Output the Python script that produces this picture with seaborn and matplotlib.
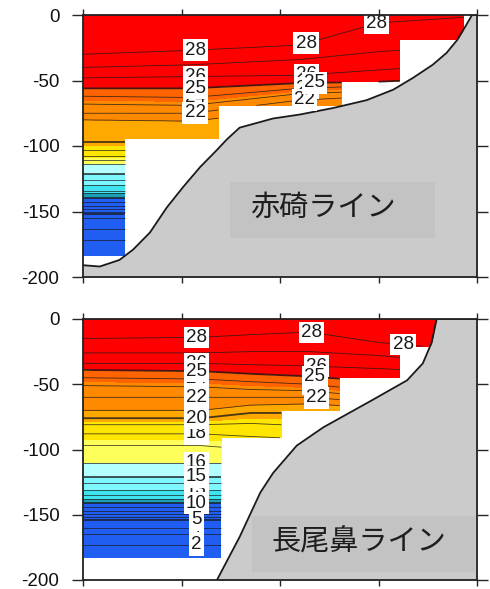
"""Temperature cross sections off Tottori: Akasaki and Nagaobana lines."""

import matplotlib
matplotlib.use("Agg")
import matplotlib.pyplot as plt
import numpy as np
import pandas as pd
import seaborn as sns
from matplotlib.patches import Rectangle


# isotherm temperatures (deg C) that the station profiles are described by
iso_temp = [28.9, 28, 27, 26, 25, 24, 23, 22, 21, 20, 19, 18, 17, 16,
            15, 14, 13, 12, 11, 10, 8, 5, 4, 3, 2, 1.2]

# --- 赤碕ライン -------------------------------------------------------------
aka_station_x = [0, 11, 22, 30, 38]
aka_iso_depth = [
    [0, -30, -40, -48, -56, -62, -68, -75, -80, -97, -103, -108, -111, -114,
     -121, -126, -130, -134, -136, -140, -146, -152, -155, -163, -172, -195],
    [0, -27, -38, -47, -56, -63, -69, -75, -81, -97, -103, -108, -111, -114,
     -121, -126, -130, -134, -136, -140, -146, -152, -155, -163, -172, -195],
    [0, -23, -34, -46, -52, -56, -60, -65, -72, -90, -102, -108, -111, -114,
     -121, -126, -130, -134, -136, -140, -146, -152, -155, -163, -172, -195],
    [0, -6, -28, -42, -51, -54, -58, -62, -68, -85, -100, -108, -111, -114,
     -121, -126, -130, -134, -136, -140, -146, -152, -155, -163, -172, -195],
    [0, -2, -24, -38, -48, -52, -56, -60, -66, -82, -100, -108, -111, -114,
     -121, -126, -130, -134, -136, -140, -146, -152, -155, -163, -172, -195],
]
aka_col_edges = [0, 4.3, 13.8, 26.3, 32.2, 38.6]
aka_col_bottom = [-184, -94, -69, -51, -19]
aka_bathy_x = [0, 1.7, 3.7, 5.1, 6.8, 8.5, 10.2, 11.9, 13.6, 14.6, 15.9, 19.3,
               22.0, 25.4, 28.8, 31.5, 33.5, 35.5, 36.9, 38.0, 38.8, 39.5, 40]
aka_bathy_z = [-191, -192, -187, -179, -166, -147, -131, -116, -103, -95, -86,
               -79, -76, -71, -65, -57, -48, -38, -29, -19, -9, 0, 0]
aka_label_level = [28, 26, 25, 24, 22, 28, 26, 25, 24, 22, 28]
aka_label_x = [11.4, 11.4, 11.4, 11.4, 11.4, 22.7, 22.7, 23.5, 22.7, 22.5, 29.8]
aka_label_z = [-27, -47, -56, -63, -75, -23, -46, -52, -56, -65, -6]

# --- 長尾鼻ライン -----------------------------------------------------------
naga_station_x = [0, 12, 17, 23, 30, 36]
naga_iso_depth = [
    [0, -15, -26, -34, -39, -45, -51, -60, -70, -76, -81, -88, -97, -110,
     -121, -126, -131, -135, -138, -141, -147, -154, -160, -165, -173, -195],
    [0, -14, -26, -34, -40, -46, -52, -60, -70, -76, -81, -88, -97, -110,
     -121, -126, -131, -135, -138, -141, -147, -154, -160, -165, -173, -195],
    [0, -12, -25, -35, -42, -48, -54, -60, -66, -72, -80, -90, -100, -110,
     -121, -126, -131, -135, -138, -141, -147, -154, -160, -165, -173, -195],
    [0, -10, -25, -36, -44, -50, -55, -60, -65, -72, -82, -92, -102, -112,
     -121, -126, -131, -135, -138, -141, -147, -154, -160, -165, -173, -195],
    [0, -18, -28, -38, -48, -55, -60, -64, -68, -75, -85, -95, -105, -115,
     -121, -126, -131, -135, -138, -141, -147, -154, -160, -165, -173, -195],
    [0, -22, -32, -40, -50, -56, -61, -65, -69, -76, -86, -96, -106, -116,
     -121, -126, -131, -135, -138, -141, -147, -154, -160, -165, -173, -195],
]
naga_col_edges = [0, 14.1, 20.2, 26.1, 32.2, 37.0]
naga_col_bottom = [-183, -91, -70, -45, -21]
naga_bathy_x = [13.6, 15.9, 18.0, 19.3, 21.7, 24.4, 29.4, 32.9, 34.5, 35.4, 35.9, 40]
naga_bathy_z = [-200, -167, -133, -118, -97, -83, -62, -47, -34, -18, 0, 0]
naga_label_level = [28, 26, 25, 24, 22, 20, 18, 16, 15, 13, 10, 5, 4, 2,
                    28, 26, 25, 24, 22, 28]
naga_label_x = [11.5] * 14 + [23.2, 23.7, 23.5, 23.5, 23.7, 32.5]
naga_label_z = [-16, -33, -41, -47, -60, -76, -89, -110, -121, -131, -141, -154,
                -160, -173, -10, -37, -46, -54, -60, -20]

# labels of these isotherms sit on top where boxes overlap
front_levels = [25, 20, 15, 10, 5, 2]

# colour classes of the shading
fill_levels = [-1, 10, 11, 13, 15, 16, 17.5, 19.5, 21, 23.5, 25, 40]
fill_colors = ["#1f5ef0", "#1a9fb5", "#3fe3f0", "#7ef6ff", "#b4ffff", "#ffff5c",
               "#ffe600", "#ffa800", "#ff8a00", "#ff6400", "#ff0000"]
line_levels = list(range(2, 29))


def build_field(station_x, iso_depth, col_edges, col_bottom):
    gx = np.linspace(0, 40, 801)
    gz = np.linspace(-200, 0, 801)
    depth = np.array(iso_depth, dtype=float)
    temps = np.array(iso_temp, dtype=float)
    field = np.empty((gz.size, gx.size))
    for j, xv in enumerate(gx):
        d = np.array([np.interp(xv, station_x, depth[:, k]) for k in range(temps.size)])
        field[:, j] = np.interp(gz, d[::-1], temps[::-1])
    bottom = np.full(gx.size, 1.0)
    for left, right, zb in zip(col_edges[:-1], col_edges[1:], col_bottom):
        bottom[(gx >= left) & (gx <= right)] = zb
    mask = gz[:, None] < bottom[None, :]
    return gx, gz, np.ma.masked_array(field, mask)


def draw_section(ax, station_x, iso_depth, col_edges, col_bottom, bathy_x, bathy_z,
                 lab_level, lab_x, lab_z, name, box, text_xy):
    gx, gz, temp = build_field(station_x, iso_depth, col_edges, col_bottom)
    ax.contourf(gx, gz, temp, levels=fill_levels, colors=fill_colors, zorder=1)

    # one contour set per isotherm so each label lands on its own line
    for lev in line_levels:
        cs = ax.contour(gx, gz, temp, levels=[lev], colors="k",
                        linewidths=1.3 if lev % 5 == 0 else 0.6, alpha=0.8, zorder=2)
        pts = [(lx, lz) for lv, lx, lz in zip(lab_level, lab_x, lab_z) if lv == lev]
        if pts and len(cs.allsegs[0]) > 0:
            cs.clabel(manual=pts, inline=True, inline_spacing=2,
                      fontsize=13.5, fmt="%d", colors="k")
            order = 6 + (0.5 if lev in front_levels else 0) + (30 - lev) / 1000
            for t in cs.labelTexts:
                t.set_rotation(0)
                t.set_alpha(1)
                t.set_bbox(dict(boxstyle="square,pad=0.12", fc="white", ec="none"))
                t.set_zorder(order)

    bathy = pd.DataFrame({"x": bathy_x, "z": bathy_z})
    ax.fill_between(bathy["x"], bathy["z"], -200, color="#cbcbcb", lw=0, zorder=3)
    sns.lineplot(data=bathy, x="x", y="z", sort=False, estimator=None, color="k",
                 lw=1.3, ax=ax, zorder=4)

    ax.add_patch(Rectangle(box[:2], box[2], box[3], transform=ax.transAxes,
                           fc="#c3c3c3", ec="none", zorder=4))
    ax.text(text_xy[0], text_xy[1], name, transform=ax.transAxes, ha="center",
            va="center", fontsize=21, color="#1e1e1e", zorder=5,
            family=["Noto Sans CJK JP", "DejaVu Sans"])

    ax.set_xlim(0, 40)
    ax.set_ylim(-200, 0)
    ax.set_xticks([0, 10, 20, 30, 40])
    ax.set_xticklabels([])
    ax.set_yticks([0, -50, -100, -150, -200])
    ax.set_yticklabels(["0", "-50", "-100", "-150", "-200"])
    ax.set_xlabel("")
    ax.set_ylabel("")
    ax.tick_params(axis="x", top=True, bottom=True, direction="out", length=4, width=1)
    ax.tick_params(axis="y", left=True, right=True, direction="out", length=8,
                   width=1, pad=9, labelsize=13.5, labelcolor="#111111")
    for sp in ax.spines.values():
        sp.set_visible(True)
        sp.set_linewidth(1.3)
        sp.set_color("#222222")
        sp.set_zorder(7)


def main() -> None:
    sns.set_theme(style="ticks")
    plt.rcParams["font.family"] = ["Liberation Sans", "DejaVu Sans"]

    fig = plt.figure(figsize=(4.9, 5.89), dpi=100)
    ax_top = fig.add_axes([83 / 490, 1 - 277 / 589, 394 / 490, 262 / 589])
    ax_bot = fig.add_axes([83 / 490, 1 - 580 / 589, 394 / 490, 261 / 589])

    draw_section(ax_top, aka_station_x, aka_iso_depth, aka_col_edges, aka_col_bottom,
                 aka_bathy_x, aka_bathy_z, aka_label_level, aka_label_x, aka_label_z,
                 "赤碕ライン", (0.373, 0.149, 0.52, 0.214), (0.608, 0.263))
    draw_section(ax_bot, naga_station_x, naga_iso_depth, naga_col_edges, naga_col_bottom,
                 naga_bathy_x, naga_bathy_z, naga_label_level, naga_label_x, naga_label_z,
                 "長尾鼻ライン", (0.429, 0.031, 0.566, 0.214), (0.699, 0.142))

    fig.savefig("out.png", dpi=100)
    plt.close(fig)


if __name__ == "__main__":
    main()
